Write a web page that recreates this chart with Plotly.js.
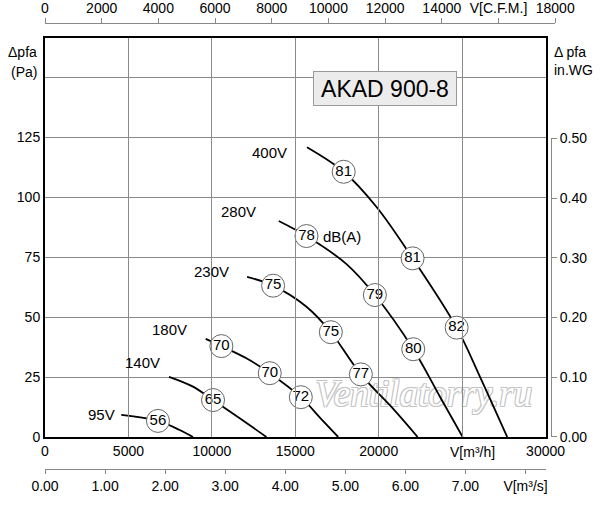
<!DOCTYPE html>
<html>
<head>
<meta charset="utf-8">
<script src="https://cdn.plot.ly/plotly-3.0.1.min.js"></script>
<style>
  html, body { margin: 0; padding: 0; background: #fff; }
  #chart { width: 600px; height: 505px; }
</style>
</head>
<body>
<div id="chart"></div>
<script>
// Fan curves: airflow in m3/h, pressure in Pa
const voltages = ['400V', '280V', '230V', '180V', '140V', '95V'];

const flow400 = [15700, 17900, 19870, 22030, 24670, 26070, 27700];
const pres400 = [120.8, 110.6, 95.9, 74.5, 45.6, 25.1, 0];

const flow280 = [14010, 15670, 18070, 19770, 22070, 23670, 25030];
const pres280 = [90.1, 83.8, 72.1, 59.2, 36.6, 16.8, 0];

const flow230 = [12110, 13670, 15670, 17130, 18930, 20870, 22330];
const pres230 = [66.8, 63.1, 54.3, 43.7, 26.1, 11.7, 0];

const flow180 = [9630, 10570, 12070, 13470, 15330, 16530, 17570];
const pres180 = [40.9, 37.9, 32.8, 26.6, 16.6, 7.7, 0];

const flow140 = [7430, 8870, 10070, 11670, 13270];
const pres140 = [25.1, 21.0, 15.4, 7.8, 0];

const flow95 = [4570, 6770, 8070, 8870];
const pres95 = [9.2, 6.7, 2.9, 0];

// noise level markers dB(A)
const dbFlow = [17900, 22030, 24670, 15670, 19770, 22070, 13670, 17130, 18930, 10570, 13470, 15330, 10070, 6770];
const dbPres = [110.6, 74.5, 45.6, 83.8, 59.2, 36.6, 63.1, 43.7, 26.1, 37.9, 26.6, 16.6, 15.4, 6.7];
const dbVals = ['81', '81', '82', '78', '79', '80', '75', '75', '77', '70', '70', '72', '65', '56'];

// tick labels
const pressTicks = [0, 25, 50, 75, 100, 125, 150];
const pressLabels = ['0', '25', '50', '75', '100', '125', ''];
const flowTicks = [0, 5000, 10000, 15000, 20000, 25000, 30000];
const flowLabels = ['0', '5000', '10000', '15000', '20000', '', '30000'];
const cfmTicks = [0, 2000, 4000, 6000, 8000, 10000, 12000, 14000, 16000, 18000];
const cfmLabels = ['0', '2000', '4000', '6000', '8000', '10000', '12000', '14000', 'V[C.F.M.]', '18000'];
const m3sTicks = [0, 1, 2, 3, 4, 5, 6, 7, 8];
const m3sLabels = ['0.00', '1.00', '2.00', '3.00', '4.00', '5.00', '6.00', '7.00', 'V[m³/s]'];
const wgTicks = [0, 0.1, 0.2, 0.3, 0.4, 0.5];
const wgLabels = ['0.00', '0.10', '0.20', '0.30', '0.40', '0.50'];

const FONT = '"Liberation Sans", Arial, Helvetica, sans-serif';
const curves = [
  [flow400, pres400], [flow280, pres280], [flow230, pres230],
  [flow180, pres180], [flow140, pres140], [flow95, pres95]
];

// empty traces first so the secondary scales get drawn
const traces = [
  { x: [], y: [], xaxis: 'x2', yaxis: 'y3', type: 'scatter', hoverinfo: 'skip' },
  { x: [], y: [], xaxis: 'x3', yaxis: 'y3', type: 'scatter', hoverinfo: 'skip' },
  { x: [], y: [], xaxis: 'x', yaxis: 'y2', type: 'scatter', hoverinfo: 'skip' }
];

curves.forEach((c, i) => traces.push({
  x: c[0], y: c[1], name: voltages[i],
  type: 'scatter', mode: 'lines',
  line: { color: '#000', width: 1.8, shape: 'spline', smoothing: 1 },
  hoverinfo: 'skip'
}));

traces.push({
  x: dbFlow, y: dbPres, text: dbVals,
  type: 'scatter', mode: 'markers+text',
  textposition: 'middle center',
  textfont: { family: FONT, size: 15, color: '#000' },
  marker: { size: 23, color: '#fff', line: { color: '#666', width: 1 } },
  hoverinfo: 'skip'
});

const tickFont = { family: FONT, size: 14, color: '#000' };

// voltage labels beside curve starts
const voltPos = [[13470, 118.6], [11570, 94.2], [9970, 68.9], [7470, 45.0], [5870, 31.2], [3370, 9.2]];
const annotations = voltages.map((v, i) => ({
  x: voltPos[i][0], y: voltPos[i][1], xref: 'x', yref: 'y',
  text: v, showarrow: false, font: { family: FONT, size: 15, color: '#000' }
}));

annotations.push(
  { x: 16570, y: 83.8, xref: 'x', yref: 'y', xanchor: 'left', text: 'dB(A)', showarrow: false,
    font: { family: FONT, size: 15, color: '#000' } },
  { x: 25600, y: 0, xref: 'x', yref: 'y', yanchor: 'top', yshift: -5, text: 'V[m³/h]', showarrow: false,
    font: tickFont },
  { x: -0.012, y: 0.935, xref: 'paper', yref: 'paper', xanchor: 'right', text: 'Δpfa', showarrow: false, font: tickFont },
  { x: -0.012, y: 0.894, xref: 'paper', yref: 'paper', xanchor: 'right', text: '(Pa)', showarrow: false, font: tickFont },
  { x: 0.984, y: 0.935, xref: 'paper', yref: 'paper', xanchor: 'left', text: 'Δ pfa', showarrow: false, font: tickFont },
  { x: 0.984, y: 0.897, xref: 'paper', yref: 'paper', xanchor: 'left', text: 'in.WG', showarrow: false, font: tickFont },
  { x: 0.7994, y: 0.8749, xref: 'paper', yref: 'paper', text: 'AKAD 900-8', showarrow: false,
    font: { family: FONT, size: 23, color: '#000' },
    bgcolor: '#ececec', bordercolor: '#999', borderwidth: 1, borderpad: 1, width: 140, height: 31 }
);

const layout = {
  width: 600, height: 505,
  margin: { l: 45, r: 40, t: 10, b: 5 },
  paper_bgcolor: '#fff', plot_bgcolor: 'rgba(0,0,0,0)',
  showlegend: false,
  font: { family: FONT, size: 14, color: '#000' },
  xaxis: {
    domain: [0, 0.972], range: [0, 30000], anchor: 'y',
    tickvals: flowTicks, ticktext: flowLabels, tickfont: tickFont,
    showgrid: true, gridcolor: '#8a8a8a', gridwidth: 1, zeroline: false,
    showline: true, mirror: true, linecolor: '#000', linewidth: 2, ticks: ''
  },
  yaxis: {
    domain: [0.1286, 0.9429], range: [0, 166.4], anchor: 'x',
    tickvals: pressTicks, ticktext: pressLabels, tickfont: tickFont,
    showgrid: true, gridcolor: '#8a8a8a', gridwidth: 1, zeroline: false,
    showline: true, mirror: true, linecolor: '#000', linewidth: 2, ticks: ''
  },
  yaxis3: {
    domain: [0.1286, 0.9429], range: [0, 1], anchor: 'free', position: 0,
    visible: false, showgrid: false, zeroline: false
  },
  xaxis2: {
    domain: [0, 0.9907], range: [0, 18000], anchor: 'free', position: 0.9729, side: 'top',
    tickvals: cfmTicks, ticktext: cfmLabels, tickfont: tickFont,
    showgrid: false, zeroline: false, showline: true, linecolor: '#888', linewidth: 1,
    ticks: 'outside', ticklen: 5, tickcolor: '#888'
  },
  xaxis3: {
    domain: [0, 0.972], range: [0, 30000 / 3600], anchor: 'free', position: 0.0627, side: 'bottom',
    tickvals: m3sTicks, ticktext: m3sLabels, tickfont: tickFont,
    showgrid: false, zeroline: false, showline: true, linecolor: '#888', linewidth: 1,
    ticks: 'outside', ticklen: 4, tickcolor: '#888'
  },
  yaxis2: {
    domain: [0.1286, 0.738], range: [0, 0.5], anchor: 'free', position: 0.9825, side: 'right',
    tickvals: wgTicks, ticktext: wgLabels, tickfont: tickFont,
    showgrid: false, zeroline: false, showline: true, linecolor: '#888', linewidth: 1,
    ticks: 'outside', ticklen: 5, tickcolor: '#888'
  },
  annotations: annotations,
  shapes: [{
    type: 'rect', xref: 'x', yref: 'y', x0: 16000, x1: 29400, y0: 10, y1: 30,
    layer: 'between', line: { width: 0 }, fillcolor: 'rgba(0,0,0,0)',
    label: { text: 'Ventilatorry.ru', textposition: 'middle center',
      font: { family: '"Liberation Serif", serif', size: 37, color: '#ffffff', style: 'italic',
        shadow: '-1px -1px 0 #c4c4c4, 1px -1px 0 #c4c4c4, -1px 1px 0 #c4c4c4, 1px 1px 0 #c4c4c4' } }
  }]
};

Plotly.newPlot('chart', traces, layout, { staticPlot: true });
</script>
</body>
</html>
